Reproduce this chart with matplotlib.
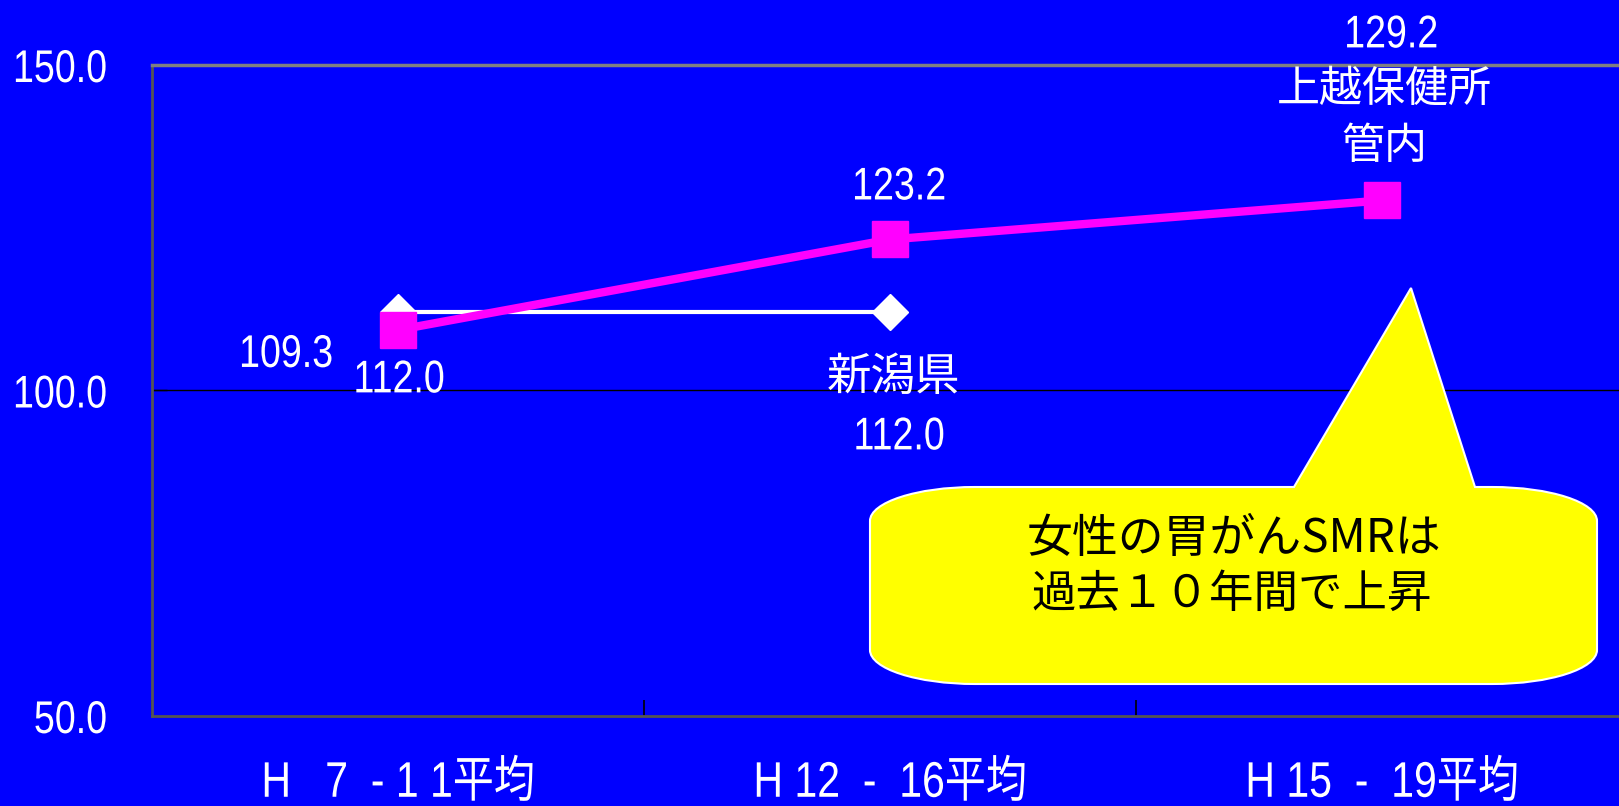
import numpy as np
import matplotlib
matplotlib.use("Agg")
import matplotlib.pyplot as plt
from matplotlib.path import Path
from matplotlib.patches import PathPatch
from matplotlib.patheffects import AbstractPathEffect
from matplotlib.transforms import Affine2D

# ---- data -------------------------------------------------------------
periods = ["H   7  - 1 1平均", "H 12  -  16平均", "H 15  -  19平均"]
joetsu = [109.3, 123.2, 129.2]          # 上越保健所管内
niigata = [112.0, 112.0, np.nan]        # 新潟県
ytick_values = [50.0, 100.0, 150.0]
callout_lines = ["女性の胃がんSMRは", "過去１０年間で上昇"]

# ---- fonts -------------------------------------------------------------
LATIN = "Liberation Sans"
CJK = "Noto Sans CJK JP"
MIXED = [LATIN, CJK, "DejaVu Sans"]


class Condensed(AbstractPathEffect):
    """Draw text glyphs narrowed horizontally (a 'narrow' face look)."""

    def __init__(self, sx=0.82, anchor="center"):
        super().__init__()
        self.sx = sx
        self.anchor = anchor

    def draw_path(self, renderer, gc, tpath, affine, rgbFace=None):
        ext = tpath.get_extents(affine)
        if self.anchor == "right":
            cx = ext.x1
        elif self.anchor == "left":
            cx = ext.x0
        else:
            cx = 0.5 * (ext.x0 + ext.x1)
        squeeze = Affine2D().translate(-cx, 0).scale(self.sx, 1).translate(cx, 0)
        renderer.draw_path(gc, tpath, affine + squeeze, rgbFace)


BLUE = "#0000FF"
MAGENTA = "#FF00FF"

W, H = 1619, 806
fig = plt.figure(figsize=(W / 100, H / 100), dpi=100, facecolor=BLUE)

# axes: left spine at x=152 px, top at y=65 px, bottom at y=716 px
pitch = 492
ax = fig.add_axes([152 / W, 1 - 716 / H, 3 * pitch / W, (716 - 65) / H])
ax.set_facecolor(BLUE)
ax.set_xlim(-0.5, 2.5)
ax.set_ylim(50, 150)

x = np.arange(len(periods))

# series
ax.plot(x, niigata, color="white", lw=3, marker="D", ms=18,
        mfc="white", mec="white", zorder=3, clip_on=False)
ax.plot(x, joetsu, color=MAGENTA, lw=6, marker="s", ms=26,
        mfc=MAGENTA, mec=MAGENTA, zorder=4, clip_on=False)

# grid line at 100
ax.axhline(100, color="black", lw=1, zorder=1)

# spines
for side in ("left", "bottom"):
    ax.spines[side].set_color("#555555")
    ax.spines[side].set_linewidth(2)
ax.spines["top"].set_color("#808080")
ax.spines["top"].set_linewidth(2.5)
ax.spines["right"].set_visible(False)

# y ticks
ax.set_yticks(ytick_values)
ax.set_yticklabels([f"{v:.1f}" for v in ytick_values])
ax.tick_params(axis="y", direction="in", length=11, width=1, color="black",
               pad=32, labelsize=33, labelcolor="white")
for lab in ax.get_yticklabels():
    lab.set_family(LATIN)
    lab.set_path_effects([Condensed(0.82, "right")])

# x ticks: marks at category boundaries, labels at category centres
ax.set_xticks([-0.5, 0.5, 1.5, 2.5])
ax.set_xticklabels([])
ax.tick_params(axis="x", which="major", direction="in", length=11.5, width=1.2,
               color="black")
ax.set_xticks(x, minor=True)
ax.set_xticklabels(periods, minor=True)
ax.tick_params(axis="x", which="minor", length=0, pad=32, labelsize=36,
               labelcolor="white")
for lab in ax.get_xticklabels(minor=True):
    lab.set_family(MIXED)
    lab.set_path_effects([Condensed(0.82, "center")])

# ---- value labels --------------------------------------------------------
def label(xv, yv, text, dx, dy, family, size=33, narrow=True):
    pe = [Condensed(0.82, "center")] if narrow else None
    ax.annotate(text, (xv, yv), xytext=(dx, dy), textcoords="offset pixels",
                ha="center", va="center", color="white", fontsize=size,
                family=family, zorder=6, annotation_clip=False, path_effects=pe)

label(0, joetsu[0], f"{joetsu[0]:.1f}", -112, -25, LATIN)
label(0, niigata[0], f"{niigata[0]:.1f}", 1, -68, LATIN)
label(1, joetsu[1], f"{joetsu[1]:.1f}", 9, 52, LATIN)
label(1, niigata[1], "新潟県", 3, -65, [CJK], 32, narrow=False)
label(1, niigata[1], f"{niigata[1]:.1f}", 9, -125, LATIN)
label(2, joetsu[2], f"{joetsu[2]:.1f}", 9, 165, LATIN)
label(2, joetsu[2], "上越保健所", 2, 111, [CJK], 31, narrow=False)
label(2, joetsu[2], "管内", 2, 53, [CJK], 31, narrow=False)

# ---- callout balloon (pixel layout, y measured from the top) -------------
L, R, T, B = 870, 1597, 487, 684
rx, ry = 105, 34
k = 0.5523
tip = (1411, 288)
base_l, base_r = 1294, 1475

pts = [
    (L + rx, T), (base_l, T), tip, (base_r, T), (R - rx, T),
    (R - rx + k * rx, T), (R, T + ry - k * ry), (R, T + ry),
    (R, B - ry),
    (R, B - ry + k * ry), (R - rx + k * rx, B), (R - rx, B),
    (L + rx, B),
    (L + rx - k * rx, B), (L, B - ry + k * ry), (L, B - ry),
    (L, T + ry),
    (L, T + ry - k * ry), (L + rx - k * rx, T), (L + rx, T),
    (L + rx, T),
]
codes = [Path.MOVETO, Path.LINETO, Path.LINETO, Path.LINETO, Path.LINETO,
         Path.CURVE4, Path.CURVE4, Path.CURVE4,
         Path.LINETO,
         Path.CURVE4, Path.CURVE4, Path.CURVE4,
         Path.LINETO,
         Path.CURVE4, Path.CURVE4, Path.CURVE4,
         Path.LINETO,
         Path.CURVE4, Path.CURVE4, Path.CURVE4,
         Path.CLOSEPOLY]
verts = [(px / W, 1 - py / H) for px, py in pts]
balloon = PathPatch(Path(verts, codes), facecolor="#FFFF00", edgecolor="white",
                    lw=1.5, transform=fig.transFigure, zorder=10, clip_on=False)
ax.add_patch(balloon)

fig.text(1234 / W, 1 - 539 / H, callout_lines[0], ha="center", va="center",
         fontsize=33, color="black", family=[CJK], zorder=11)
fig.text(1232 / W, 1 - 594 / H, callout_lines[1], ha="center", va="center",
         fontsize=32, color="black", family=[CJK], zorder=11)

fig.savefig("out.png", dpi=100, facecolor=BLUE)
